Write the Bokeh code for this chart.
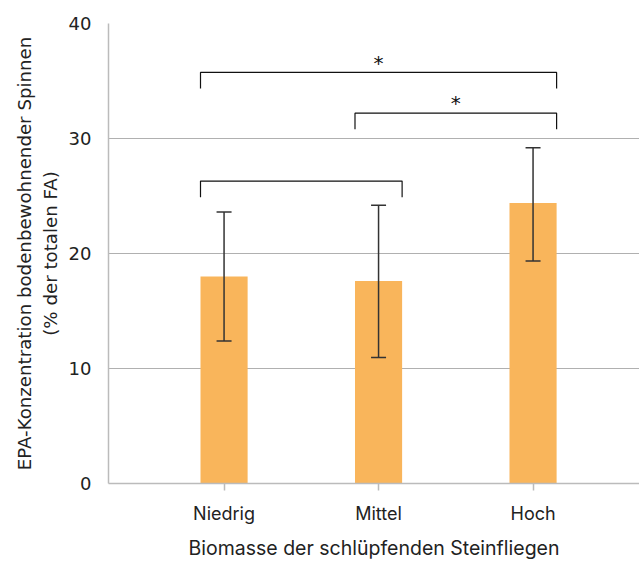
from bokeh.plotting import figure
from bokeh.models import ColumnDataSource, Range1d, FixedTicker, Whisker, TeeHead
from bokeh.core.properties import value
from bokeh.embed import file_html
from bokeh.resources import INLINE

categories = ["Niedrig", "Mittel", "Hoch"]
means = [18.0, 17.6, 24.4]
err_upper = [23.6, 24.2, 29.2]
err_lower = [12.4, 10.95, 19.35]

comp_start = [0, 1, 0]
comp_end = [2, 2, 1]
comp_y = [35.75, 32.2, 26.3]
comp_label = ["*", "*", ""]

x_title = "Biomasse der schlüpfenden Steinfliegen"
y_title = "EPA-Konzentration bodenbewohnender Spinnen\n(% der totalen FA)"

bar_w = 0.305
tick_len = 1.4

xpos = list(range(len(categories)))

p = figure(width=639, height=562, output_backend="svg", toolbar_location=None,
           x_range=Range1d(-0.748, 2.689), y_range=Range1d(0, 40),
           min_border_left=108, min_border_right=0, min_border_top=23, min_border_bottom=79)
p.outline_line_color = None
p.background_fill_color = "white"

src = ColumnDataSource(dict(x=xpos, top=means, up=err_upper, lo=err_lower))
p.vbar(x="x", top="top", width=bar_w, bottom=0, source=src, color="#F9B55B", line_color=None)

wh = Whisker(base="x", upper="up", lower="lo", source=src, level="overlay",
             line_color="#333333", line_width=1.5,
             upper_head=TeeHead(size=15, line_color="#333333", line_width=1.5),
             lower_head=TeeHead(size=15, line_color="#333333", line_width=1.5))
p.add_layout(wh)

xs, ys, sx, sy, st = [], [], [], [], []
for a, b, y, lab in zip(comp_start, comp_end, comp_y, comp_label):
    x0 = xpos[a] - bar_w / 2
    x1 = xpos[b] + bar_w / 2
    xs.append([x0, x0, x1, x1])
    ys.append([y - tick_len, y, y, y - tick_len])
    sx.append((xpos[a] + xpos[b]) / 2)
    sy.append(y + 0.85)
    st.append(lab)
p.multi_line(xs=xs, ys=ys, line_color="#111111", line_width=1.2)
p.text(x=sx, y=sy, text=st, text_align="center", text_baseline="alphabetic",
       text_font=value("DejaVu Sans"), text_font_size="20px", text_color="#111111")

# axes
p.xaxis.ticker = FixedTicker(ticks=xpos)
p.xaxis.major_label_overrides = {i: c for i, c in zip(xpos, categories)}
p.xaxis.axis_label = x_title
p.xaxis.axis_line_color = "#bbbbbb"
p.xaxis.axis_line_width = 1.5
p.xaxis.major_tick_line_color = "#bbbbbb"
p.xaxis.major_tick_line_width = 1.5
p.xaxis.major_tick_in = 0
p.xaxis.major_tick_out = 7
p.xaxis.minor_tick_line_color = None
p.xaxis.major_label_text_font = "Inter"
p.xaxis.major_label_text_font_size = "18px"
p.xaxis.major_label_text_color = "#222222"
p.xaxis.major_label_standoff = 12
p.xaxis.axis_label_text_font = "Inter"
p.xaxis.axis_label_text_font_size = "19.5px"
p.xaxis.axis_label_text_font_style = "normal"
p.xaxis.axis_label_text_color = "#222222"
p.xaxis.axis_label_standoff = 9

p.yaxis.ticker = FixedTicker(ticks=[0, 10, 20, 30, 40])
p.yaxis.axis_label = y_title
p.yaxis.axis_line_color = "#bbbbbb"
p.yaxis.axis_line_width = 1.5
p.yaxis.major_tick_line_color = None
p.yaxis.minor_tick_line_color = None
p.yaxis.major_tick_in = 0
p.yaxis.major_tick_out = 0
p.yaxis.major_label_text_font = "DejaVu Sans"
p.yaxis.major_label_text_font_size = "18px"
p.yaxis.major_label_text_color = "#222222"
p.yaxis.major_label_standoff = 17
p.yaxis.axis_label_text_font = "DejaVu Sans"
p.yaxis.axis_label_text_font_size = "18.2px"
p.yaxis.axis_label_text_font_style = "normal"
p.yaxis.axis_label_text_color = "#222222"
p.yaxis.axis_label_standoff = 5

p.xgrid.grid_line_color = None
p.ygrid.grid_line_color = "#b0b0b0"
p.ygrid.grid_line_width = 1.2

open("out.html", "w").write(file_html(p, INLINE))
